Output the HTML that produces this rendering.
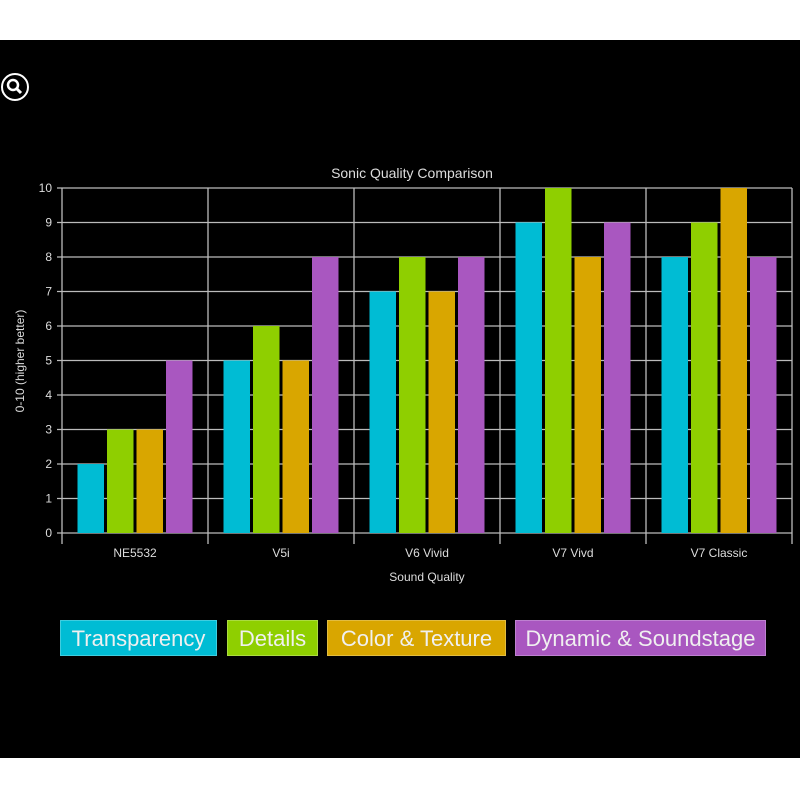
<!DOCTYPE html>
<html><head><meta charset="utf-8"><style>
html,body{margin:0;padding:0;width:800px;height:800px;background:#fff;overflow:hidden;font-family:"Liberation Sans",sans-serif}
#bg{position:absolute;left:0;top:40px;width:800px;height:718px;background:#000}
.leg{position:absolute;top:620px;height:36px;line-height:36px;color:#f0f0f0;font-size:22px;text-align:center;box-sizing:border-box;border:1px solid rgba(255,255,255,0.25)}
</style></head><body>
<div id="bg"></div>
<svg width="800" height="800" style="position:absolute;left:0;top:0" id="svg">
<g>
<circle cx="15" cy="87" r="13" fill="none" stroke="#fff" stroke-width="2"/>
<circle cx="13" cy="85" r="5" fill="none" stroke="#fff" stroke-width="2.5"/>
<line x1="17" y1="89" x2="21" y2="93" stroke="#fff" stroke-width="3"/>
</g>
<text x="412" y="178" fill="#ddd" font-size="14" text-anchor="middle">Sonic Quality Comparison</text>
<text x="427" y="581" fill="#ddd" font-size="12" text-anchor="middle">Sound Quality</text>
<text transform="translate(24,361) rotate(-90)" fill="#ddd" font-size="12" text-anchor="middle">0-10 (higher better)</text>
<g id="plot"></g>
</svg>
<div class="leg" style="left:60px;width:157px;background:#00bcd4">Transparency</div>
<div class="leg" style="left:227px;width:91px;background:#8fcf00">Details</div>
<div class="leg" style="left:327px;width:179px;background:#d9a600">Color &amp; Texture</div>
<div class="leg" style="left:515px;width:251px;background:#a957c0">Dynamic &amp; Soundstage</div>
<script>
const categories=["NE5532","V5i","V6 Vivid","V7 Vivd","V7 Classic"];
const transparency=[2,5,7,9,8];
const details=[3,6,8,10,9];
const colorTexture=[3,5,7,8,10];
const dynamicSoundstage=[5,8,8,9,8];
const yTicks=[0,1,2,3,4,5,6,7,8,9,10];
const series=[transparency,details,colorTexture,dynamicSoundstage];
const colors=["#00bcd4","#8fcf00","#d9a600","#a957c0"];
const names=["transparency","details","color-texture","dynamic-soundstage"];
const X0=62,X1=792,Y0=533,Y1=188,YMAX=10;
const bw=(X1-X0)/categories.length;
const y=v=>Y0-(v/YMAX)*(Y0-Y1);
const g=document.getElementById('plot');
const NS="http://www.w3.org/2000/svg";
function mk(t,a){const e=document.createElementNS(NS,t);for(const k in a)e.setAttribute(k,a[k]);g.appendChild(e);return e;}
yTicks.forEach(t=>{
 const l=mk('line',{x1:X0-5,x2:X1,y1:y(t),y2:y(t),stroke:'#bbb','stroke-width':1.3});
 
 
 const tx=mk('text',{x:X0-10,y:y(t)+4,fill:'#ddd','font-size':12,'text-anchor':'end'});
 tx.textContent=t;
 
 
});
for(let i=0;i<=categories.length;i++){
 const l=mk('line',{x1:X0+i*bw,x2:X0+i*bw,y1:Y1,y2:Y0+11,stroke:'#bbb','stroke-width':1.3});
 
 
}
const barW=26.5,gap=3,pad=(bw-(4*barW+3*gap))/2;
categories.forEach((c,i)=>{
 series.forEach((s,j)=>{
  const x=X0+i*bw+pad+j*(barW+gap);
  const r=mk('rect',{x:x,y:y(s[i]),width:barW,height:Y0-y(s[i]),fill:colors[j]});
  
  
 });
 const tx=mk('text',{x:X0+(i+0.5)*bw,y:557,fill:'#ddd','font-size':12,'text-anchor':'middle'});
 tx.textContent=c;
 
 
});
</script>
</body></html>
